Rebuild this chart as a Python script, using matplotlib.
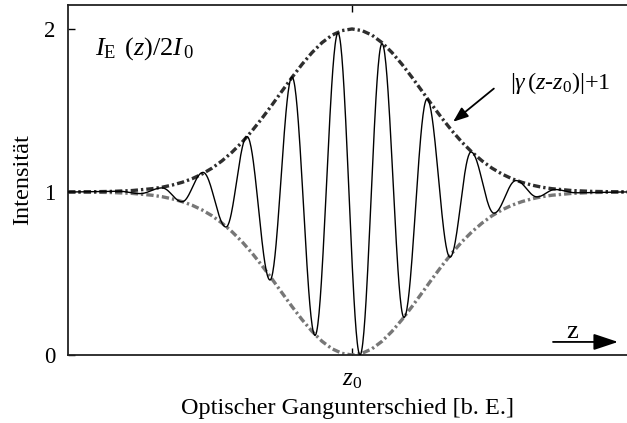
import numpy as np
import matplotlib
matplotlib.use("Agg")
import matplotlib.pyplot as plt

plt.rcParams["font.family"] = ["Liberation Serif", "DejaVu Serif"]
plt.rcParams["mathtext.fontset"] = "custom"
plt.rcParams["mathtext.rm"] = "Liberation Serif"
plt.rcParams["mathtext.it"] = "Liberation Serif:italic"

# Optical path difference relative to z0 (arbitrary units)
env_x = [-284, -260, -240, -220, -200, -190, -180, -170, -160, -150, -140, -130,
         -120, -110, -100, -90, -80, -70, -60, -50, -40, -30, -20, -10, 0,
         10, 20, 30, 40, 50, 60, 70, 80, 90, 100, 110, 120, 130, 140, 150,
         160, 170, 180, 190, 200, 220, 240, 260, 275]
# Coherence envelope |gamma(z - z0)|
env_g = [0.0003, 0.0013, 0.0035, 0.0087, 0.020, 0.029, 0.042, 0.059, 0.081, 0.110,
         0.146, 0.191, 0.244, 0.305, 0.375, 0.452, 0.534, 0.619, 0.703, 0.783,
         0.855, 0.916, 0.962, 0.990, 1.000,
         0.990, 0.962, 0.916, 0.855, 0.783, 0.703, 0.619, 0.534, 0.452, 0.375,
         0.305, 0.244, 0.191, 0.146, 0.110, 0.081, 0.059, 0.042, 0.029, 0.020,
         0.0087, 0.0035, 0.0013, 0.0007]

# Fringe maxima and minima of I_E(z)/2I_0
fr_x = [-284, -234, -212, -190, -170, -149, -126, -105, -82, -60, -37, -14, 8,
        30, 52, 75, 98, 119, 142, 164, 185, 203, 224, 275]
fr_y = [1.0, 1.005, 0.99, 1.025, 0.94, 1.12, 0.785, 1.34, 0.46, 1.705, 0.12,
        1.975, 0.0, 1.91, 0.23, 1.57, 0.60, 1.245, 0.87, 1.07, 0.97, 1.015,
        0.995, 1.0]

y_ticks = [0, 1, 2]

fig = plt.figure(figsize=(6.27, 4.23), dpi=100)
ax = fig.add_axes([0.1085, 0.1608, 0.8915, 0.8274])

# smooth half-cosine strokes between successive extrema
xs, ys = [], []
for i in range(len(fr_x) - 1):
    t = np.linspace(0, 1, 40, endpoint=False)
    xs.append(fr_x[i] + (fr_x[i + 1] - fr_x[i]) * t)
    ys.append(fr_y[i] + (fr_y[i + 1] - fr_y[i]) * (1 - np.cos(np.pi * t)) / 2)
xs.append([fr_x[-1]])
ys.append([fr_y[-1]])
xs = np.concatenate(xs)
ys = np.concatenate(ys)

ex = np.array(env_x, float)
eg = np.array(env_g, float)

ls = (0, (2.2, 0.9, 0.7, 0.9))
ax.plot(ex, 1 - eg, color="#777777", lw=2.4, ls=ls, zorder=2)
ax.plot(ex, 1 + eg, color="#2e2e2e", lw=2.4, ls=ls, zorder=2)
ax.plot(xs, ys, color="black", lw=1.0, zorder=3)

ax.set_xlim(-284, 275)
ax.set_ylim(0, 2.147)
ax.set_yticks(y_ticks)
ax.set_yticklabels([str(v) for v in y_ticks], fontsize=16.5)
ax.set_xticks([0])
ax.set_xticklabels([r"$z_{\rm 0}$"], fontsize=18)
ax.tick_params(direction="in", length=5, width=1.0, top=True, right=False,
               colors="black", pad=9)
ax.tick_params(axis="x", pad=10)
for s in ax.spines.values():
    s.set_linewidth(1.3)
    s.set_color("#222222")
ax.spines["right"].set_visible(False)

ax.set_ylabel("Intensität", fontsize=17.5, labelpad=8)
ax.set_xlabel("Optischer Gangunterschied [b. E.]", fontsize=17.5, labelpad=5)

ax.text(-257, 1.88, r"$I_{\rm E}\;\,(z)/2I_{\,\rm 0}$", fontsize=19, ha="left",
        va="center")
ax.text(158, 1.67, r"$|\gamma\,(z$-$z_{\rm 0})|$+1", fontsize=17.5, ha="left",
        va="center")
ax.annotate("", xy=(99, 1.42), xytext=(144, 1.645),
            arrowprops=dict(arrowstyle="-|>,head_length=0.9,head_width=0.35",
                            color="black", lw=1.3))

ax.annotate("", xy=(266, 0.08), xytext=(201, 0.08),
            arrowprops=dict(arrowstyle="-|>,head_length=1.5,head_width=0.5",
                            color="black", lw=1.3, shrinkA=0, shrinkB=0))
ax.text(220, 0.14, "z", fontsize=19, ha="center", va="center")

fig.savefig("out.png", dpi=100)
